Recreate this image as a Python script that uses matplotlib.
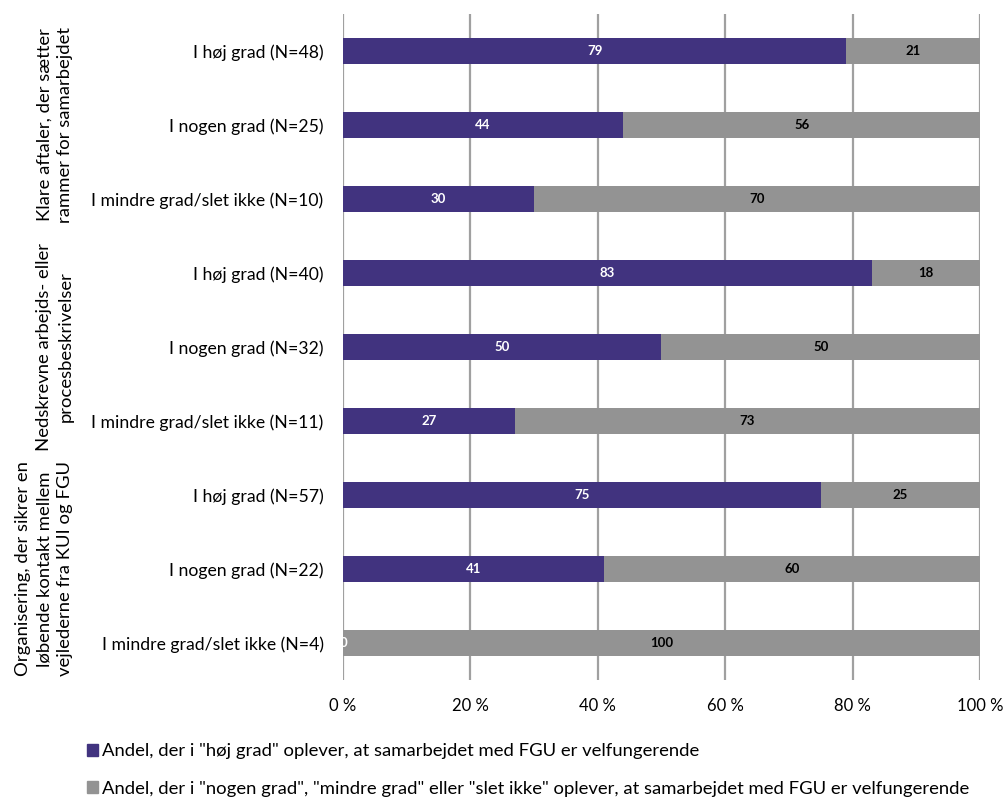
import matplotlib
matplotlib.use("Agg")
import matplotlib.pyplot as plt
from matplotlib.patches import Patch

plt.rcParams['font.family'] = ['Lato', 'DejaVu Sans']

categories = [
    "I høj grad (N=48)",
    "I nogen grad (N=25)",
    "I mindre grad/slet ikke (N=10)",
    "I høj grad (N=40)",
    "I nogen grad (N=32)",
    "I mindre grad/slet ikke (N=11)",
    "I høj grad (N=57)",
    "I nogen grad (N=22)",
    "I mindre grad/slet ikke (N=4)",
]
hoej_grad = [79, 44, 30, 83, 50, 27, 75, 41, 0]
oevrige = [21, 56, 70, 18, 50, 73, 25, 60, 100]

group_labels = [
    "Klare aftaler, der sætter\nrammer for samarbejdet",
    "Nedskrevne arbejds- eller\nprocesbeskrivelser",
    "Organisering, der sikrer en\nløbende kontakt mellem\nvejlederne fra KUI og FGU",
]
legend_labels = [
    'Andel, der i "høj grad" oplever, at samarbejdet med FGU er velfungerende',
    'Andel, der i "nogen grad", "mindre grad" eller "slet ikke" oplever, at samarbejdet med FGU er velfungerende',
]
x_ticks = [0, 20, 40, 60, 80, 100]
x_ticklabels = ["0 %", "20 %", "40 %", "60 %", "80 %", "100 %"]

purple = "#41337f"
grey = "#939393"

fig = plt.figure(figsize=(10.05, 8.0), dpi=100)
ax = fig.add_axes([0.3413, 0.15, 0.6338, 0.8325])

y = list(range(len(categories)))
bar_h = 0.35
ax.barh(y, hoej_grad, height=bar_h, color=purple, zorder=3)
ax.barh(y, oevrige, left=hoej_grad, height=bar_h, color=grey, zorder=3)

for yi, a, b in zip(y, hoej_grad, oevrige):
    ax.text(a / 2, yi, f"{a}", ha="center", va="center", color="white",
            fontsize=9.5, fontweight="bold", zorder=4)
    right = min(a + b, 100)
    ax.text((a + right) / 2, yi, f"{b}", ha="center", va="center",
            color="black", fontsize=9.5, fontweight="bold", zorder=4)

ax.set_xlim(0, 100)
ax.set_ylim(len(categories) - 0.5, -0.5)
ax.set_xticks(x_ticks)
ax.set_xticklabels(x_ticklabels, fontsize=12)
ax.set_yticks(y)
ax.set_yticklabels(categories, fontsize=12.7)
ax.tick_params(axis="both", length=0)
ax.tick_params(axis="x", pad=13)
ax.tick_params(axis="y", pad=14)
for s in ax.spines.values():
    s.set_visible(False)
ax.grid(axis="x", color="#a0a0a0", linewidth=1.6, zorder=0)
ax.set_axisbelow(True)

# Group labels, rotated, to the left of the category names
group_centers = [1, 4, 7]
for lbl, gc in zip(group_labels, group_centers):
    yf = ax.transData.transform((0, gc))[1]
    yfig = fig.transFigure.inverted().transform((0, yf))[1]
    fig.text(0.073, yfig, lbl, rotation=90, ha="right", va="center",
             fontsize=13.3, multialignment="center", linespacing=1.4)

handles = [Patch(color=purple), Patch(color=grey)]
fig.legend(handles, legend_labels, loc="center left",
           bbox_to_anchor=(0.079, 0.0375), frameon=False, fontsize=13.3,
           handlelength=0.6, handleheight=0.6, handletextpad=0.2,
           labelspacing=1.15, borderaxespad=0)

fig.savefig("out.png", dpi=100)
